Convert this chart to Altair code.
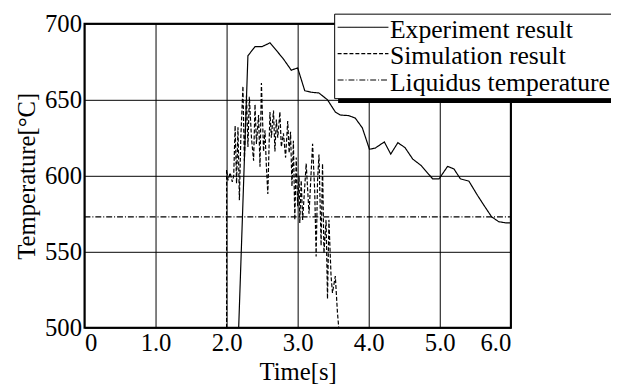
import altair as alt
import pandas as pd

series_names = ["Experiment result", "Simulation result", "Liquidus temperature"]
series_dash = [[1, 0], [4, 2], [6, 2, 1, 2]]

exp_t = [2.17, 2.30, 2.40, 2.50, 2.61, 2.79, 2.91, 3.00, 3.10, 3.19, 3.30, 3.42, 3.53, 3.60,
         3.72, 3.81, 3.91, 4.01, 4.09, 4.22, 4.31, 4.41, 4.51, 4.62, 4.74, 4.90, 4.99, 5.11,
         5.20, 5.29, 5.41, 5.53, 5.62, 5.73, 5.83, 5.92, 6.00]
exp_T = [500, 679, 685, 685, 687.5, 677.5, 669.5, 671, 656, 655, 654.5, 650, 642, 640,
         639.6, 638, 631.6, 617.5, 618.2, 622.3, 614.3, 621.8, 618.6, 611, 606.7, 598, 598, 606.2,
         604.5, 598, 596.5, 587.2, 580.7, 573, 569.8, 569.1, 569]

sim_t = [2.00, 2.00, 2.02, 2.05, 2.08, 2.10, 2.12, 2.14, 2.16, 2.18, 2.20, 2.23, 2.25, 2.28,
         2.30, 2.32, 2.35, 2.38, 2.40, 2.42, 2.45, 2.47, 2.49, 2.52, 2.54, 2.56, 2.58, 2.61,
         2.63, 2.66, 2.68, 2.70, 2.72, 2.75, 2.77, 2.80, 2.83, 2.86, 2.88, 2.90, 2.92, 2.94,
         2.96, 2.98, 3.00, 3.02, 3.03, 3.05, 3.07, 3.12, 3.16, 3.21, 3.24, 3.26, 3.28, 3.30,
         3.33, 3.35, 3.37, 3.40, 3.42, 3.44, 3.47, 3.49, 3.53, 3.56, 3.58]
sim_T = [500, 604, 597, 602, 596, 600, 633, 595, 632, 584, 625, 659, 610, 653,
         619, 652, 625, 610, 647, 621, 640, 606, 661, 616, 630, 606, 588, 642,
         625, 643, 616, 637, 625, 642, 619, 628, 612, 636, 615, 629, 593, 623,
         571, 612, 580, 600, 569, 597, 571, 608, 575, 621, 590, 547, 597, 614,
         554, 608, 549, 571, 519, 571, 534, 523, 534, 510, 499]

liq_t = [0.0, 6.0]
liq_T = [573, 573]

x_ticks = [0, 1, 2, 3, 4, 5, 6]
y_ticks = [500, 550, 600, 650, 700]

rows = []
for name, ts, Ts in [(series_names[0], exp_t, exp_T),
                     (series_names[1], sim_t, sim_T),
                     (series_names[2], liq_t, liq_T)]:
    for i, (t, T) in enumerate(zip(ts, Ts)):
        rows.append({"series": name, "t": t, "T": T, "idx": i})
df = pd.DataFrame(rows)

FONT = "Liberation Serif"

lines = alt.Chart(df).mark_line(clip=True, color="black", strokeWidth=1.2).encode(
    x=alt.X("t:Q", scale=alt.Scale(domain=[0, 6], nice=False),
            axis=alt.Axis(values=x_ticks, title="Time[s]",
                          labelExpr="datum.value == 0 ? '0' : format(datum.value, '.1f')",
                          labelPadding=3, titlePadding=4, labelBaseline="top",
                          labelFont=FONT, titleFont=FONT)),
    y=alt.Y("T:Q", scale=alt.Scale(domain=[500, 700], nice=False, zero=False),
            axis=alt.Axis(values=y_ticks, title="Temperature[°C]", labelPadding=3,
                          titlePadding=5, labelFont=FONT, titleFont=FONT)),
    strokeDash=alt.StrokeDash("series:N",
                              scale=alt.Scale(domain=series_names, range=series_dash),
                              legend=None),
    order="idx:Q",
)

# legend box (drawn manually, placed in pixels over the top-right corner)
one = alt.Data(values=[{"a": 1}])
shadow = alt.Chart(one).mark_rect(color="black", clip=False).encode(
    x=alt.value(257), x2=alt.value(600), y=alt.value(-5), y2=alt.value(80.2)
)
box = alt.Chart(one).mark_rect(fill="white", stroke="black", strokeWidth=1, clip=False).encode(
    x=alt.value(253.5), x2=alt.value(600), y=alt.value(-9.8), y2=alt.value(75.8)
)
legend_layers = []
row_y = [3.5, 30.2, 56.9]
for name, dash, yc in zip(series_names, series_dash, row_y):
    legend_layers.append(
        alt.Chart(one).mark_rule(color="black", strokeWidth=1.1, strokeDash=dash, clip=False).encode(
            x=alt.value(256.5), x2=alt.value(308), y=alt.value(yc)
        )
    )
    legend_layers.append(
        alt.Chart(one).mark_text(font=FONT, fontSize=26, color="black", align="left",
                                 baseline="alphabetic", clip=False).encode(
            x=alt.value(309.5), y=alt.value(yc + 10.8), text=alt.value(name)
        )
    )

chart = alt.layer(lines, shadow, box, *legend_layers).properties(
    width=432, height=308,
    autosize=alt.AutoSizeParams(type="none"),
    padding={"left": 77.5, "top": 13.5, "right": 101.5, "bottom": 62},
).configure(
    font=FONT
).configure_view(
    stroke="black", strokeWidth=2
).configure_axis(
    labelFont=FONT, labelFontSize=25, labelColor="black",
    titleFont=FONT, titleFontSize=25, titleFontWeight="normal", titleColor="black",
    grid=True, gridColor="black", gridWidth=1, gridOpacity=1,
    ticks=False, domain=False,
)

chart.save("out.html", embed_options={"renderer": "svg", "actions": False})
